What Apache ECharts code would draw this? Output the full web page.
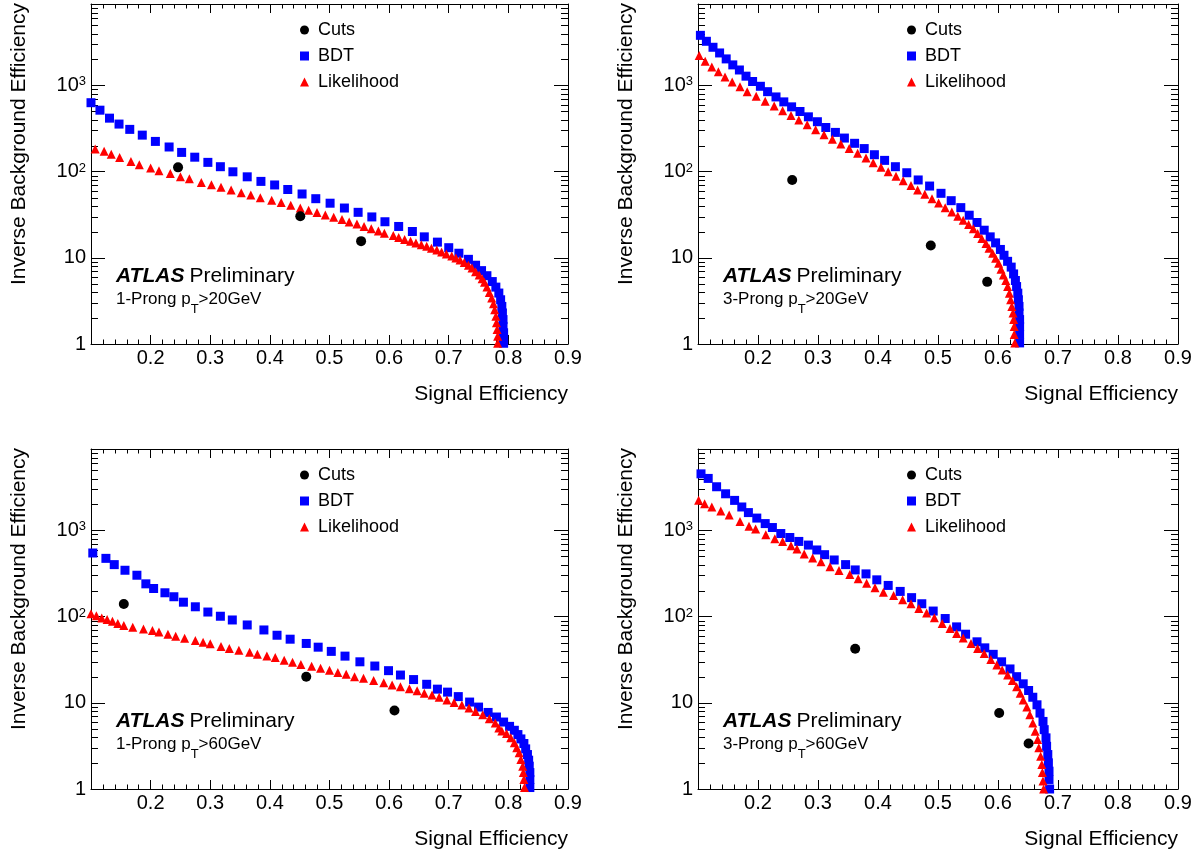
<!DOCTYPE html>
<html>
<head>
<meta charset="utf-8">
<title>Tau ID: inverse background efficiency vs signal efficiency</title>
<script src="https://cdn.jsdelivr.net/npm/echarts@6/dist/echarts.min.js"></script>
<style>
  html, body { margin: 0; padding: 0; background: #fff; }
  #chart { width: 1201px; height: 857px; }
</style>
</head>
<body>
<div id="chart"></div>
<script>
// ---- data: [signal efficiency, inverse background efficiency] ----
// 1-prong, pT > 20 GeV
const cuts1p20 = [[0.246, 112], [0.451, 30.3], [0.553, 15.6]];
const bdt1p20 = [[0.100, 630], [0.115, 516], [0.131, 417], [0.147, 356], [0.165, 309], [0.186, 265], [0.208, 224], [0.231, 193], [0.252, 167], [0.274, 147], [0.296, 128], [0.317, 114], [0.338, 99.5], [0.362, 87], [0.385, 77], [0.408, 70], [0.430, 62], [0.454, 55], [0.477, 48.5], [0.501, 43], [0.525, 37.8], [0.548, 33.7], [0.571, 29.8], [0.593, 26.2], [0.616, 23.1], [0.639, 20.2], [0.659, 17.5], [0.681, 15.2], [0.700, 13.1], [0.717, 11.3], [0.733, 9.6], [0.745, 8.2], [0.755, 7.1], [0.764, 6.2], [0.773, 5.3], [0.779, 4.57], [0.784, 3.9], [0.787, 3.26], [0.789, 2.73], [0.790, 2.29], [0.791, 1.92], [0.791, 1.6], [0.792, 1.35], [0.792, 1.15], [0.792, 1.02]];
const lik1p20 = [[0.107, 183], [0.122, 172], [0.134, 159], [0.148, 146], [0.167, 131], [0.181, 120], [0.200, 110], [0.214, 102], [0.233, 95], [0.250, 87], [0.265, 82.6], [0.285, 74.9], [0.302, 70.4], [0.318, 66], [0.335, 61], [0.352, 57], [0.368, 53.4], [0.384, 49.9], [0.403, 46.4], [0.419, 43.7], [0.435, 40.6], [0.451, 37.8], [0.465, 35.6], [0.479, 33.5], [0.493, 31.4], [0.507, 29.6], [0.521, 27.8], [0.533, 26.1], [0.546, 24.7], [0.558, 23.1], [0.570, 21.7], [0.582, 20.4], [0.592, 19.3], [0.607, 18.2], [0.616, 17.2], [0.626, 16.3], [0.636, 15.6], [0.645, 14.9], [0.654, 14.2], [0.663, 13.6], [0.671, 12.9], [0.680, 12.3], [0.688, 11.7], [0.696, 11.1], [0.705, 10.5], [0.712, 9.95], [0.719, 9.4], [0.726, 8.8], [0.733, 8.2], [0.739, 7.6], [0.745, 6.9], [0.751, 6.3], [0.756, 5.7], [0.760, 5.2], [0.764, 4.57], [0.768, 3.95], [0.772, 3.41], [0.775, 2.93], [0.777, 2.5], [0.779, 2.1], [0.780, 1.76], [0.781, 1.47], [0.782, 1.23], [0.782, 1.02]];

// 3-prong, pT > 20 GeV
const cuts3p20 = [[0.257, 80], [0.488, 13.9], [0.582, 5.26]];
const bdt3p20 = [[0.104, 3810], [0.114, 3250], [0.125, 2770], [0.136, 2380], [0.147, 2030], [0.158, 1730], [0.169, 1510], [0.180, 1280], [0.191, 1110], [0.204, 977], [0.216, 846], [0.230, 735], [0.243, 644], [0.256, 564], [0.270, 498], [0.284, 432], [0.299, 379], [0.313, 325], [0.329, 285], [0.344, 245], [0.361, 213], [0.377, 185], [0.394, 157], [0.411, 135], [0.429, 114], [0.448, 97], [0.467, 80], [0.486, 68], [0.505, 56], [0.522, 46], [0.538, 38.2], [0.552, 31.2], [0.565, 25.7], [0.577, 20.9], [0.587, 17.5], [0.596, 14.9], [0.604, 12.5], [0.610, 10.7], [0.616, 9.1], [0.622, 7.8], [0.626, 6.5], [0.629, 5.45], [0.631, 4.64], [0.633, 3.89], [0.634, 3.26], [0.635, 2.73], [0.635, 2.29], [0.636, 1.92], [0.636, 1.6], [0.636, 1.29], [0.636, 1.03]];
const lik3p20 = [[0.102, 2220], [0.112, 1910], [0.123, 1640], [0.134, 1440], [0.145, 1250], [0.157, 1094], [0.170, 966], [0.182, 846], [0.197, 748], [0.212, 656], [0.227, 578], [0.241, 507], [0.255, 448], [0.268, 396], [0.282, 349], [0.296, 306], [0.310, 268], [0.324, 237], [0.338, 209], [0.352, 185], [0.366, 163], [0.380, 144], [0.392, 127], [0.405, 112], [0.417, 99.5], [0.430, 88.5], [0.442, 78.3], [0.455, 69], [0.466, 61], [0.478, 54.5], [0.490, 48.5], [0.501, 43.2], [0.512, 38.2], [0.523, 34], [0.533, 30.3], [0.542, 27.3], [0.551, 24.3], [0.559, 21.7], [0.566, 19.2], [0.573, 16.8], [0.580, 14.7], [0.585, 12.9], [0.591, 11.3], [0.596, 9.87], [0.601, 8.64], [0.605, 7.37], [0.609, 6.33], [0.613, 5.45], [0.616, 4.64], [0.619, 3.89], [0.621, 3.26], [0.623, 2.73], [0.625, 2.29], [0.626, 1.92], [0.627, 1.6], [0.627, 1.29], [0.628, 1.03]];

// 1-prong, pT > 60 GeV
const cuts1p60 = [[0.155, 140], [0.461, 20.1], [0.609, 8.15]];
const bdt1p60 = [[0.103, 547], [0.125, 474], [0.139, 401], [0.157, 345], [0.177, 302], [0.192, 240], [0.205, 212], [0.224, 189], [0.239, 170], [0.255, 147], [0.275, 130], [0.296, 113], [0.317, 101], [0.337, 91.4], [0.362, 80], [0.390, 70], [0.412, 60.8], [0.434, 54.7], [0.461, 48.8], [0.481, 44.2], [0.503, 39.5], [0.526, 34.8], [0.551, 29.9], [0.576, 26.7], [0.599, 23.6], [0.619, 21], [0.641, 18.6], [0.663, 16.4], [0.681, 14.4], [0.698, 13.3], [0.716, 11.8], [0.735, 10.2], [0.750, 8.92], [0.766, 7.73], [0.780, 6.84], [0.792, 5.98], [0.802, 5.33], [0.810, 4.8], [0.816, 4.28], [0.821, 3.81], [0.826, 3.37], [0.829, 2.92], [0.832, 2.51], [0.834, 2.16], [0.835, 1.84], [0.836, 1.55], [0.836, 1.29], [0.836, 1.04]];
const lik1p60 = [[0.100, 108], [0.109, 102], [0.118, 96.4], [0.127, 92.3], [0.136, 88.2], [0.145, 83], [0.155, 78.7], [0.170, 75.3], [0.188, 72], [0.203, 68.9], [0.214, 66.4], [0.229, 62.5], [0.242, 59.3], [0.257, 56.2], [0.275, 52.9], [0.288, 50.5], [0.300, 48.3], [0.318, 45.1], [0.332, 42.8], [0.348, 40.6], [0.366, 38.5], [0.379, 36.7], [0.395, 34.8], [0.409, 33.6], [0.424, 31.1], [0.438, 29.5], [0.452, 27.9], [0.470, 26.5], [0.485, 25.1], [0.500, 23.8], [0.514, 22.4], [0.528, 21.4], [0.542, 20.1], [0.557, 19.3], [0.574, 18.1], [0.591, 17.1], [0.605, 16.1], [0.619, 15.4], [0.634, 14.6], [0.647, 13.8], [0.659, 12.9], [0.672, 12.3], [0.684, 11.6], [0.697, 10.8], [0.709, 10.1], [0.722, 9.4], [0.734, 8.7], [0.745, 7.94], [0.757, 7.27], [0.768, 6.54], [0.778, 5.83], [0.784, 5.1], [0.789, 4.71], [0.797, 4.39], [0.804, 3.92], [0.810, 3.43], [0.814, 3.0], [0.818, 2.63], [0.821, 2.2], [0.824, 1.84], [0.825, 1.55], [0.826, 1.29], [0.827, 1.04]];

// 3-prong, pT > 60 GeV
const cuts3p60 = [[0.362, 42.3], [0.602, 7.6], [0.651, 3.37]];
const bdt3p60 = [[0.105, 4530], [0.117, 4010], [0.131, 3210], [0.146, 2660], [0.161, 2230], [0.173, 1870], [0.184, 1610], [0.198, 1390], [0.212, 1200], [0.224, 1080], [0.238, 920], [0.253, 828], [0.268, 745], [0.284, 676], [0.298, 593], [0.311, 523], [0.327, 454], [0.346, 401], [0.362, 348], [0.380, 313], [0.398, 267], [0.417, 230], [0.437, 196], [0.456, 166], [0.473, 141], [0.492, 116], [0.512, 95], [0.531, 76], [0.546, 62.5], [0.565, 51], [0.578, 43.4], [0.592, 36.5], [0.606, 29.9], [0.620, 24.7], [0.631, 20.1], [0.642, 16.6], [0.651, 13.9], [0.658, 11.6], [0.665, 9.48], [0.670, 7.6], [0.675, 6.08], [0.677, 4.88], [0.680, 3.92], [0.681, 3.13], [0.683, 2.51], [0.684, 2.01], [0.685, 1.61], [0.685, 1.29], [0.686, 1.0]];
const lik3p60 = [[0.101, 2235], [0.111, 2040], [0.123, 1870], [0.138, 1680], [0.152, 1510], [0.170, 1270], [0.185, 1120], [0.196, 1035], [0.213, 890], [0.228, 800], [0.241, 745], [0.255, 664], [0.265, 608], [0.277, 533], [0.291, 479], [0.305, 434], [0.320, 380], [0.335, 342], [0.353, 307], [0.367, 274], [0.381, 244], [0.395, 216], [0.409, 192], [0.426, 176], [0.441, 157], [0.455, 141], [0.468, 124], [0.481, 110], [0.494, 97.3], [0.507, 83], [0.520, 72.7], [0.531, 63.7], [0.542, 56.6], [0.555, 48.9], [0.566, 42.8], [0.577, 37.4], [0.588, 31.9], [0.598, 27.4], [0.607, 24], [0.616, 21], [0.624, 18.1], [0.631, 15.4], [0.637, 12.9], [0.642, 10.8], [0.648, 8.92], [0.653, 7.27], [0.658, 5.83], [0.662, 4.67], [0.666, 3.74], [0.668, 3.0], [0.671, 2.4], [0.673, 1.93], [0.674, 1.55], [0.675, 1.24], [0.676, 1.0]];

const panelProng = ['1-Prong', '3-Prong', '1-Prong', '3-Prong'];
const panelPt = ['>20GeV', '>20GeV', '>60GeV', '>60GeV'];
const legendNames = ['Cuts', 'BDT', 'Likelihood'];

// ---- axes ----
const X_MIN = 0.1, X_MAX = 0.9, X_STEP = 0.1;
const Y_MIN = 1, Y_MAX = 8800;
const minorMantissas = [2, 3, 4, 5, 6, 7, 8, 9];
const decades = [1, 10, 100, 1000];
const minorYTicks = [];
decades.forEach(d => minorMantissas.forEach(m => { if (m * d < Y_MAX) minorYTicks.push(m * d); }));

const FONT = '"Liberation Sans", Arial, Helvetica, sans-serif';

// plot frames (pixels)
const frames = [
  { left: 91, top: 4, width: 477, height: 340 },
  { left: 698, top: 4, width: 480, height: 340 },
  { left: 91, top: 449, width: 477, height: 340 },
  { left: 698, top: 449, width: 480, height: 340 }
];

const panels = [
  { cuts: cuts1p20, bdt: bdt1p20, lik: lik1p20 },
  { cuts: cuts3p20, bdt: bdt3p20, lik: lik3p20 },
  { cuts: cuts1p60, bdt: bdt1p60, lik: lik1p60 },
  { cuts: cuts3p60, bdt: bdt3p60, lik: lik3p60 }
];

function logLabel(v) {
  const e = Math.round(Math.log10(v));
  if (Math.abs(Math.log10(v) - e) > 1e-6) return '';
  if (e === 0) return '1';
  if (e === 1) return '10';
  return '{b|10}{s|' + e + '}';
}

// ROOT style minor ticks 2..9 on log axis, on both sides of the frame
function renderLogMinor(params, api) {
  const l = api.coord([X_MIN, api.value(1)]);
  const r = api.coord([X_MAX, api.value(1)]);
  const st = { stroke: '#000', lineWidth: 1 };
  return {
    type: 'group',
    children: [
      { type: 'line', shape: { x1: l[0], y1: Math.round(l[1]) + 0.5, x2: l[0] + 7, y2: Math.round(l[1]) + 0.5 }, style: st },
      { type: 'line', shape: { x1: r[0] - 7, y1: Math.round(r[1]) + 0.5, x2: r[0], y2: Math.round(r[1]) + 0.5 }, style: st }
    ]
  };
}

const axisLineStyle = { show: true, onZero: false, lineStyle: { color: '#000', width: 1 } };

const grid = [], xAxis = [], yAxis = [], series = [], legend = [], graphic = [];

frames.forEach((f, i) => {
  const p = panels[i];
  grid.push({ left: f.left, top: f.top, width: f.width, height: f.height, containLabel: false });

  const xBase = {
    type: 'value', gridIndex: i, min: X_MIN, max: X_MAX, interval: X_STEP,
    axisLine: axisLineStyle,
    axisTick: { show: true, inside: true, length: 9, lineStyle: { color: '#000' } },
    minorTick: { show: true, splitNumber: 5, length: 4.5, lineStyle: { color: '#000' } },
    splitLine: { show: false }
  };
  xAxis.push(Object.assign({}, xBase, {
    position: 'bottom',
    axisLabel: {
      showMinLabel: false, margin: 4, fontSize: 20, color: '#000', fontFamily: FONT,
      formatter: v => v.toFixed(1)
    }
  }));
  xAxis.push(Object.assign({}, xBase, { position: 'top', axisLabel: { show: false } }));

  const yBase = {
    type: 'log', logBase: 10, gridIndex: i, min: Y_MIN, max: Y_MAX,
    axisLine: axisLineStyle,
    axisTick: { show: true, inside: true, length: 14, lineStyle: { color: '#000' } },
    minorTick: { show: false },
    splitLine: { show: false }
  };
  yAxis.push(Object.assign({}, yBase, {
    position: 'left',
    axisLabel: {
      margin: 5, fontSize: 20, color: '#000', fontFamily: FONT, showMaxLabel: false,
      formatter: logLabel,
      rich: {
        b: { fontSize: 20, fontFamily: FONT, color: '#000', lineHeight: 20, verticalAlign: 'bottom' },
        s: { fontSize: 13, fontFamily: FONT, color: '#000', lineHeight: 13, verticalAlign: 'top' }
      }
    }
  }));
  yAxis.push(Object.assign({}, yBase, { position: 'right', axisLabel: { show: false } }));

  const ax = { xAxisIndex: 2 * i, yAxisIndex: 2 * i };
  series.push(Object.assign({
    type: 'custom', silent: true, z: 1,
    data: minorYTicks.map(v => [X_MIN, v]),
    renderItem: renderLogMinor
  }, ax));
  series.push(Object.assign({
    name: 'BDT', type: 'scatter', data: p.bdt, symbol: 'rect', symbolSize: 9,
    itemStyle: { color: '#0000ff', opacity: 1 }, clip: false, z: 2
  }, ax));
  series.push(Object.assign({
    name: 'Likelihood', type: 'scatter', data: p.lik, symbol: 'triangle', symbolSize: 9,
    itemStyle: { color: '#ff0000', opacity: 1 }, clip: false, z: 3
  }, ax));
  series.push(Object.assign({
    name: 'Cuts', type: 'scatter', data: p.cuts, symbol: 'circle', symbolSize: 10,
    itemStyle: { color: '#000', opacity: 1 }, clip: false, z: 4
  }, ax));

  legend.push({
    data: legendNames, orient: 'vertical', selectedMode: false,
    left: f.left + 209, top: f.top + 17,
    itemWidth: 9, itemHeight: 9, itemGap: 8, padding: 0,
    itemStyle: { opacity: 1 },
    textStyle: { fontSize: 18, color: '#000', fontFamily: FONT, lineHeight: 18, padding: [0, 0, 0, 4] }
  });

  // axis titles
  graphic.push({
    type: 'text', x: f.left - 72, y: f.top - 1, rotation: Math.PI / 2,
    style: {
      text: 'Inverse Background Efficiency', fill: '#000', fontSize: 21, fontFamily: FONT,
      align: 'right', verticalAlign: 'middle', textAlign: 'right', textVerticalAlign: 'middle'
    }
  });
  graphic.push({
    type: 'text', x: f.left + f.width, y: f.top + f.height + 50,
    style: {
      text: 'Signal Efficiency', fill: '#000', fontSize: 21, fontFamily: FONT,
      align: 'right', verticalAlign: 'middle', textAlign: 'right', textVerticalAlign: 'middle'
    }
  });
  // ATLAS label
  graphic.push({
    type: 'text', x: f.left + 25, y: f.top + 272,
    style: {
      text: '{a|ATLAS}{p|Preliminary}', fill: '#000', fontFamily: FONT,
      align: 'left', verticalAlign: 'middle', textAlign: 'left', textVerticalAlign: 'middle',
      rich: {
        a: { fontSize: 21, fontWeight: 'bold', fontStyle: 'italic', fontFamily: FONT, fill: '#000' },
        p: { fontSize: 21, fontFamily: FONT, fill: '#000', padding: [0, 0, 0, 5] }
      }
    }
  });
  graphic.push({
    type: 'text', x: f.left + 25, y: f.top + 295,
    style: {
      text: '{n|' + panelProng[i] + ' p}{s|T}{n|' + panelPt[i] + '}', fill: '#000', fontFamily: FONT,
      align: 'left', verticalAlign: 'middle', textAlign: 'left', textVerticalAlign: 'middle',
      rich: {
        n: { fontSize: 17, lineHeight: 17, fontFamily: FONT, fill: '#000' },
        s: { fontSize: 13, lineHeight: 13, fontFamily: FONT, fill: '#000', padding: [21, 0, 0, 0] }
      }
    }
  });
});

const chart = echarts.init(document.getElementById('chart'), null, { renderer: 'canvas' });
chart.setOption({
  backgroundColor: '#fff',
  animation: false,
  textStyle: { fontFamily: FONT },
  grid, xAxis, yAxis, series, legend, graphic
});
</script>
</body>
</html>
